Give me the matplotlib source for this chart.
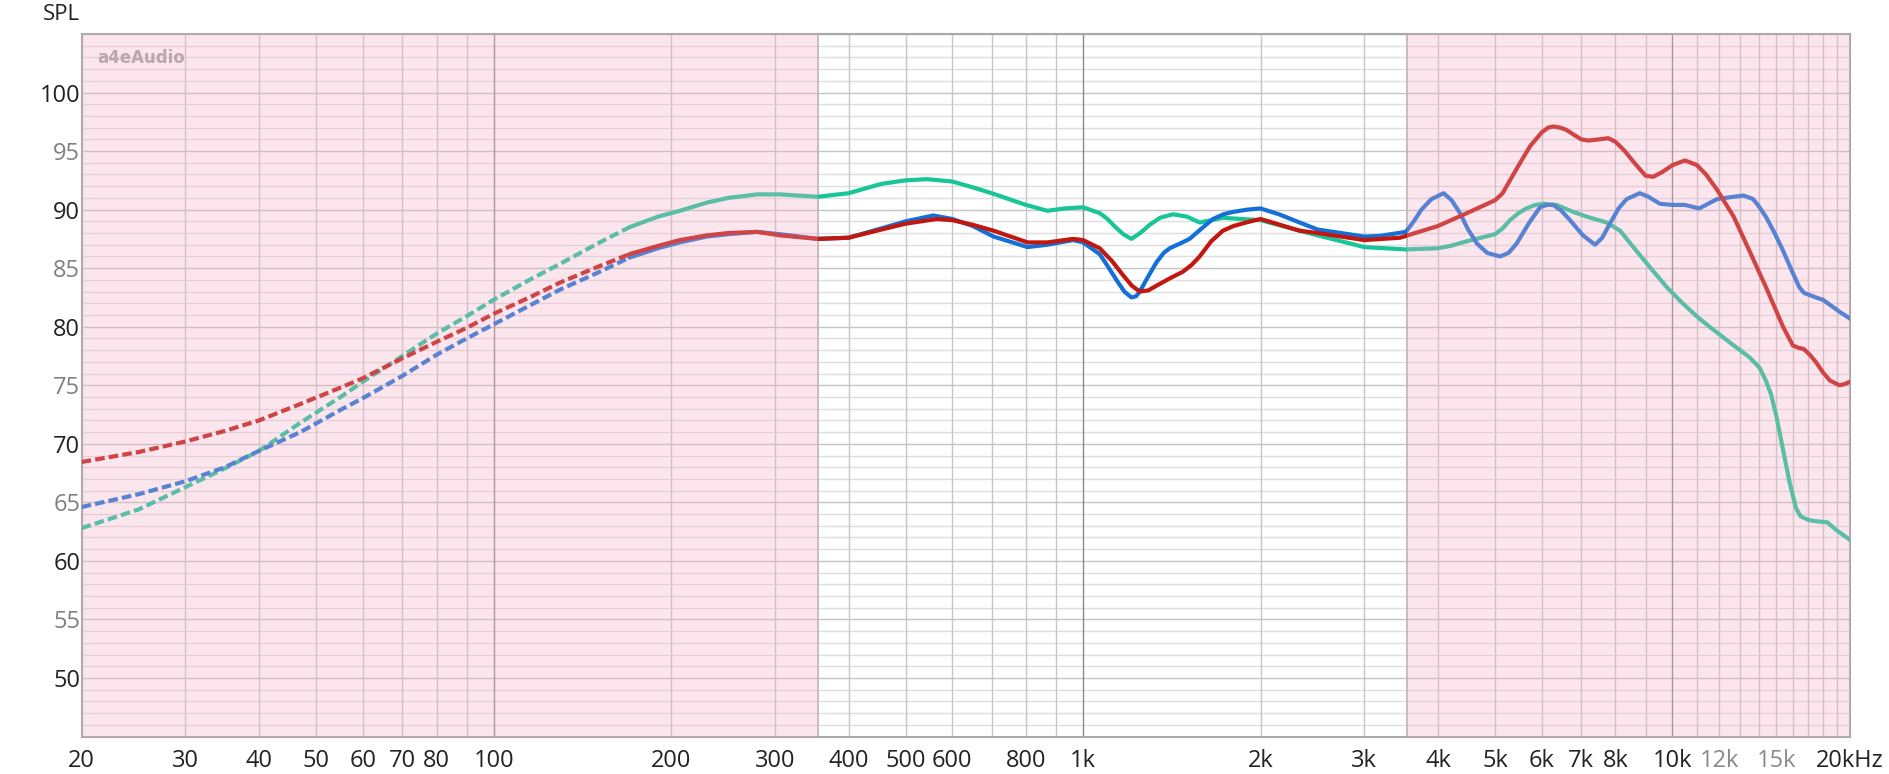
import numpy as np
import matplotlib
matplotlib.use('Agg')
import matplotlib.pyplot as plt
from matplotlib.ticker import NullLocator, NullFormatter

plt.rcParams['font.family'] = ['Open Sans', 'DejaVu Sans']

# Frequency response readings (Hz, dB SPL)
green_freq = [20, 25, 30, 35, 40, 47, 55, 60, 70, 80, 90, 100, 115, 130, 150, 170,
              190, 207, 230, 250, 280, 306, 355, 400, 455, 500, 543, 600, 650, 700,
              800, 870, 930, 1000, 1067, 1100, 1130, 1170, 1208, 1250, 1297, 1350, 1420,
              1500, 1577, 1650, 1727, 2000, 2330, 2500, 3000, 3530, 4000, 4200, 4480,
              5000, 5150, 5300, 5480, 5650, 5850, 6040, 6360, 6790, 7150, 7730, 8150,
              8580, 9150, 9770, 10400, 11100, 11900, 12700, 13500, 14050, 14400, 14700,
              15000, 15400, 15800, 16200, 16500, 17000, 17400, 18300, 19000, 19500, 20000]
green_spl = [62.8, 64.4, 66.3, 67.9, 69.4, 71.8, 74.0, 75.3, 77.5, 79.4, 80.9, 82.3, 84.0,
             85.4, 87.1, 88.5, 89.4, 89.9, 90.6, 91.0, 91.3, 91.3, 91.1, 91.4, 92.2, 92.5,
             92.6, 92.4, 91.9, 91.4, 90.4, 89.9, 90.1, 90.2, 89.7, 89.2, 88.6, 87.9, 87.5,
             88.0, 88.7, 89.3, 89.6, 89.4, 88.9, 89.1, 89.3, 89.1, 88.2, 87.8, 86.8, 86.6,
             86.7, 86.9, 87.3, 87.9, 88.4, 89.1, 89.7, 90.1, 90.4, 90.5, 90.4, 89.8, 89.4,
             88.9, 88.2, 86.8, 85.1, 83.4, 82.0, 80.7, 79.5, 78.4, 77.4, 76.5, 75.4, 74.2,
             72.4, 69.5, 66.7, 64.5, 63.8, 63.5, 63.4, 63.3, 62.6, 62.2, 61.8]

blue_freq = [20, 25, 30, 35, 40, 47, 55, 60, 70, 80, 90, 100, 115, 130, 150, 170,
             190, 207, 230, 250, 280, 306, 355, 400, 455, 500, 557, 600, 650, 705,
             805, 870, 962, 1000, 1067, 1100, 1139, 1175, 1208, 1230, 1248, 1290, 1332,
             1370, 1403, 1460, 1516, 1590, 1661, 1730, 1795, 1900, 2000, 2150, 2330,
             2500, 3000, 3180, 3530, 3640, 3750, 3900, 4090, 4220, 4360, 4500, 4660,
             4850, 5100, 5270, 5440, 5700, 5960, 6120, 6280, 6480, 6700, 7050, 7390,
             7600, 7830, 8100, 8360, 8800, 9100, 9520, 10000, 10500, 11100, 11900,
             12700, 13200, 13700, 14000, 14400, 14900, 15400, 15900, 16400, 16700,
             17100, 17500, 18000, 18700, 19300, 20000]
blue_spl = [64.6, 65.7, 66.8, 68.0, 69.4, 71.0, 72.9, 73.9, 75.8, 77.6, 79.0, 80.2, 81.8,
            83.2, 84.6, 85.9, 86.7, 87.2, 87.7, 87.9, 88.1, 87.9, 87.5, 87.6, 88.4, 89.0,
            89.5, 89.2, 88.6, 87.7, 86.8, 87.0, 87.4, 87.2, 86.2, 85.2, 84.0, 83.0, 82.5,
            82.6, 83.0, 84.3, 85.5, 86.3, 86.7, 87.1, 87.5, 88.4, 89.2, 89.6, 89.8, 90.0,
            90.1, 89.6, 88.9, 88.3, 87.7, 87.75, 88.1, 89.0, 90.0, 90.9, 91.4, 90.8, 89.7,
            88.3, 87.1, 86.3, 86.0, 86.3, 87.1, 88.8, 90.2, 90.4, 90.4, 89.9, 89.1, 87.8,
            87.0, 87.6, 88.8, 90.1, 90.9, 91.4, 91.1, 90.5, 90.4, 90.4, 90.1, 90.9, 91.1,
            91.2, 90.9, 90.3, 89.4, 88.0, 86.5, 84.9, 83.4, 82.9, 82.7, 82.5, 82.3, 81.7,
            81.2, 80.7]

red_freq = [20, 25, 30, 35, 40, 47, 55, 60, 70, 80, 90, 100, 115, 130, 150, 170,
            190, 207, 230, 250, 280, 306, 355, 400, 455, 500, 565, 600, 650, 705,
            805, 870, 962, 1000, 1067, 1120, 1169, 1210, 1248, 1290, 1332, 1400, 1477,
            1530, 1577, 1650, 1727, 1800, 1890, 2000, 2330, 2500, 3000, 3450, 4000,
            4480, 5000, 5150, 5300, 5500, 5730, 6000, 6150, 6280, 6450, 6610, 6800,
            7000, 7200, 7500, 7780, 8000, 8300, 8580, 9000, 9270, 9600, 10000, 10500,
            11000, 11400, 11900, 12700, 13500, 14400, 15400, 16000, 16350, 16700,
            17100, 17500, 18000, 18500, 19200, 19600, 20000]
red_spl = [68.45, 69.3, 70.2, 71.1, 72.0, 73.4, 74.8, 75.6, 77.3, 78.7, 79.9, 81.1, 82.5,
           83.8, 85.1, 86.2, 86.9, 87.4, 87.8, 88.0, 88.1, 87.8, 87.5, 87.6, 88.3, 88.8,
           89.2, 89.1, 88.7, 88.2, 87.2, 87.2, 87.5, 87.4, 86.7, 85.6, 84.4, 83.5, 83.0,
           83.1, 83.5, 84.1, 84.7, 85.3, 86.0, 87.3, 88.2, 88.6, 88.9, 89.2, 88.2, 88.0,
           87.4, 87.6, 88.6, 89.7, 90.8, 91.4, 92.5, 93.9, 95.4, 96.6, 97.0, 97.1, 97.0,
           96.8, 96.4, 96.0, 95.9, 96.0, 96.1, 95.8, 95.0, 94.1, 92.9, 92.8, 93.2, 93.8,
           94.2, 93.8, 93.0, 91.7, 89.4, 86.5, 83.4, 80.0, 78.4, 78.2, 78.1, 77.6, 77.0,
           76.1, 75.4, 75.0, 75.1, 75.3]

# x tick labels
xtick_freq = [20, 30, 40, 50, 60, 70, 80, 100, 200, 300, 400, 500, 600, 800,
              1000, 2000, 3000, 4000, 5000, 6000, 7000, 8000, 10000, 12000, 15000, 20000]
xtick_text = ['20', '30', '40', '50', '60', '70', '80', '100', '200', '300', '400', '500',
              '600', '800', '1k', '2k', '3k', '4k', '5k', '6k', '7k', '8k', '10k', '12k',
              '15k', '20kHz']
ytick_vals = [50, 55, 60, 65, 70, 75, 80, 85, 90, 95, 100]

fig = plt.figure(figsize=(18.9, 7.74), dpi=100)
ax = fig.add_axes([0.0432, 0.0484, 0.9356, 0.9077])
ax.set_xscale('log')
ax.set_xlim(20, 20000)
ax.set_ylim(45, 105)

# grid drawn by hand: 1 dB rows, decade/sub-decade columns
for db in range(45, 106):
    c = '#c4c4c4' if db % 5 == 0 else '#dedede'
    ax.axhline(db, color=c, lw=1.0, zorder=1)
grid_f = list(range(20, 100, 10)) + list(range(100, 1000, 100)) + \
         list(range(1000, 10000, 1000)) + list(range(10000, 20001, 1000))
for f in grid_f:
    c = '#8a8a8a' if f in (100, 1000, 10000) else '#c6c6c6'
    ax.axvline(f, color=c, lw=1.0, zorder=1)

# curves: dashed below 170 Hz, solid above
curves = [
    (green_freq, green_spl, '#17c597'),
    (blue_freq, blue_spl, '#1470d8'),
    (red_freq, red_spl, '#c1170f'),
]
for fr, spl, col in curves:
    fr = np.array(fr)
    spl = np.array(spl)
    low = fr <= 170
    high = fr >= 170
    ax.plot(fr[low], spl[low], color=col, lw=3.0, dashes=(2.3, 1.0), zorder=3)
    ax.plot(fr[high], spl[high], color=col, lw=3.0, solid_joinstyle='round',
            solid_capstyle='round', zorder=3)

# pink shaded bands drawn over the curves
ax.axvline(355, color='#b4b4b4', lw=1.2, zorder=1)
ax.axvline(3550, color='#b4b4b4', lw=1.2, zorder=1)
ax.axvspan(20, 355, facecolor='#f8adc7', alpha=0.3, lw=0, zorder=5)
ax.axvspan(3550, 20000, facecolor='#f8adc7', alpha=0.3, lw=0, zorder=5)

# watermark
ax.text(0.009, 0.966, 'a4eAudio', transform=ax.transAxes, fontsize=12,
        fontweight='bold', color='#bba6ae', va='center', ha='left',
        family=['DejaVu Sans'], zorder=6)

for s in ax.spines.values():
    s.set_color('#a8a8a8')
    s.set_linewidth(1.5)

ax.xaxis.set_minor_locator(NullLocator())
ax.xaxis.set_minor_formatter(NullFormatter())
ax.set_xticks(xtick_freq)
ax.set_xticklabels(xtick_text)
ax.set_yticks(ytick_vals)
ax.set_yticklabels([str(v) for v in ytick_vals])
ax.tick_params(axis='both', length=0, labelsize=17)
ax.tick_params(axis='x', pad=9)
ax.tick_params(axis='y', pad=1)

for lbl in ax.get_xticklabels():
    lbl.set_color('#8a8a8a' if lbl.get_text() in ('12k', '15k') else '#222222')
for lbl, v in zip(ax.get_yticklabels(), ytick_vals):
    lbl.set_color('#222222' if v % 10 == 0 else '#808080')

fig.text(80 / 1890, 1 - 14.5 / 774, 'SPL', ha='right', va='center', fontsize=16,
         color='#222222')

fig.savefig('out.png', dpi=100)
